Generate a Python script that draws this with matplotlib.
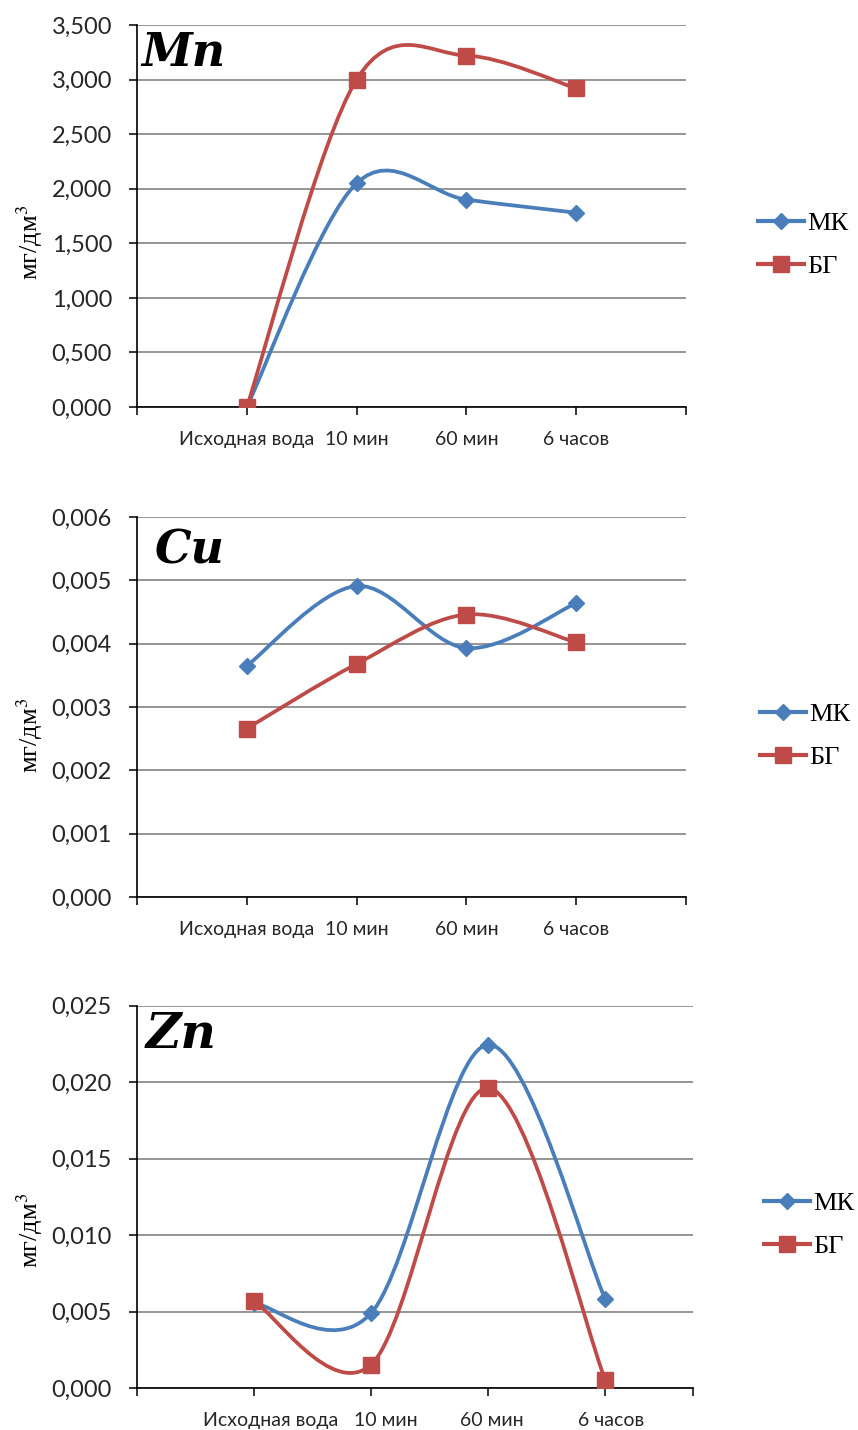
import numpy as np
import matplotlib
matplotlib.use('Agg')
import matplotlib.pyplot as plt
import matplotlib.transforms as mtransforms
from matplotlib.path import Path
from matplotlib.patches import PathPatch
from matplotlib.lines import Line2D

plt.rcParams['mathtext.fontset'] = 'stix'

# ---------------- data ----------------
categories = ['Исходная вода', '10 мин', '60 мин', '6 часов']
series_names = ['МК', 'БГ']

mn_mk = [0.000, 2.05, 1.90, 1.78]
mn_bg = [0.000, 3.00, 3.22, 2.92]

cu_mk = [0.00365, 0.00491, 0.00393, 0.00464]
cu_bg = [0.00266, 0.00368, 0.00446, 0.00402]

zn_mk = [0.00556, 0.00490, 0.02245, 0.00582]
zn_bg = [0.00567, 0.00153, 0.01962, 0.00054]

mn_yticks = [0.0, 0.5, 1.0, 1.5, 2.0, 2.5, 3.0, 3.5]
cu_yticks = [0.000, 0.001, 0.002, 0.003, 0.004, 0.005, 0.006]
zn_yticks = [0.000, 0.005, 0.010, 0.015, 0.020, 0.025]

titles = ['Mn', 'Cu', 'Zn']
ylabel = 'мг/дм$^{3}$'

# ---------------- style ----------------
BLUE = '#4A7EBB'
RED = '#BE4B48'
GRID = '#8C8C8C'

W, H = 858, 1430
fig = plt.figure(figsize=(W / 100, H / 100), dpi=100)


def smooth_path(xs, ys):
    """Excel-like smoothed line: Catmull-Rom converted to cubic Bezier."""
    pts = np.column_stack([xs, ys]).astype(float)
    n = len(pts)
    verts = [pts[0]]
    codes = [Path.MOVETO]
    for i in range(n - 1):
        p0 = pts[i - 1] if i > 0 else pts[i]
        p1 = pts[i]
        p2 = pts[i + 1]
        p3 = pts[i + 2] if i + 2 < n else pts[i + 1]
        c1 = p1 + (p2 - p0) / 6.0
        c2 = p2 - (p3 - p1) / 6.0
        verts += [c1, c2, p2]
        codes += [Path.CURVE4] * 3
    return Path(verts, codes)


def fmt(v):
    return ('%.3f' % v).replace('.', ',')


def panel(rect, mk, bg, yticks, xmax, title, title_xy, title_size,
          ylabel_y, legend_xy, label_shift=None):
    ax = fig.add_axes([rect[0] / W, 1 - rect[3] / H,
                       (rect[2] - rect[0]) / W, (rect[3] - rect[1]) / H])
    xs = np.arange(1, len(categories) + 1)
    for vals, col, mkr, ms, z in [(mk, BLUE, 'D', 8, 3), (bg, RED, 's', 11, 4)]:
        patch = PathPatch(smooth_path(xs, vals), facecolor='none',
                          edgecolor=col, lw=2.7, zorder=z, capstyle='round',
                          joinstyle='round')
        ax.add_patch(patch)
        ax.plot(xs, vals, linestyle='none', marker=mkr, ms=ms, color=col,
                zorder=z + 0.1)
    ax.set_xlim(0, xmax)
    ax.set_ylim(yticks[0], yticks[-1])
    ax.set_yticks(yticks)
    ax.set_yticklabels([fmt(v) for v in yticks], fontfamily='Lato',
                       fontsize=17, color='#262626')
    xt = [0] + list(xs) + [xmax]
    ax.set_xticks(xt)
    ax.set_xticklabels([''] + categories + [''],
                       fontfamily=['Lato', 'Open Sans'], fontsize=14,
                       color='#262626')
    ax.tick_params(axis='y', length=6, width=1.1, pad=12, color='black')
    ax.tick_params(axis='x', length=6, width=1.1, pad=11, color='black')
    if label_shift is not None:
        labels = ax.get_xticklabels()
        for lab, dx in zip(labels[1:-1], label_shift):
            lab.set_transform(lab.get_transform() +
                              mtransforms.ScaledTranslation(dx / 100, 0,
                                                            fig.dpi_scale_trans))
    ax.grid(axis='y', color=GRID, lw=1.3)
    ax.set_axisbelow(True)
    for s in ['top', 'right']:
        ax.spines[s].set_visible(False)
    for s in ['left', 'bottom']:
        ax.spines[s].set_color('black')
        ax.spines[s].set_linewidth(1.2)
        ax.spines[s].set_zorder(2.5)
    ax.text(title_xy[0] / W, 1 - title_xy[1] / H, title,
            transform=fig.transFigure, fontfamily='DejaVu Serif',
            fontweight='bold', fontstyle='italic', fontsize=title_size,
            ha='left', va='top')
    fig.text(30 / W, 1 - ylabel_y / H, ylabel, rotation=90,
             fontfamily='Liberation Serif', fontsize=19,
             ha='center', va='center')
    handles = [Line2D([], [], color=BLUE, lw=3, marker='D', ms=8),
               Line2D([], [], color=RED, lw=3, marker='s', ms=11)]
    fig.legend(handles, series_names, loc='center left',
               bbox_to_anchor=(legend_xy[0] / W, 1 - legend_xy[1] / H),
               frameon=False, prop={'family': 'Liberation Serif', 'size': 19},
               handlelength=1.75, handletextpad=0.1, labelspacing=0.75,
               borderpad=0, borderaxespad=0)
    return ax


panel((137, 25, 686, 407), mn_mk, mn_bg, mn_yticks, 5, titles[0],
      (141, 30), 33, 242, (758, 245))
panel((137, 517, 686, 897), cu_mk, cu_bg, cu_yticks, 5, titles[1],
      (155, 528), 33, 735, (760, 736))
panel((137, 1005.7, 693, 1388), zn_mk, zn_bg, zn_yticks, 4.75, titles[2],
      (146, 1011), 35, 1230, (764, 1225), label_shift=[17, 15, 4, 6])

fig.savefig('out.png', dpi=100, facecolor='white')
